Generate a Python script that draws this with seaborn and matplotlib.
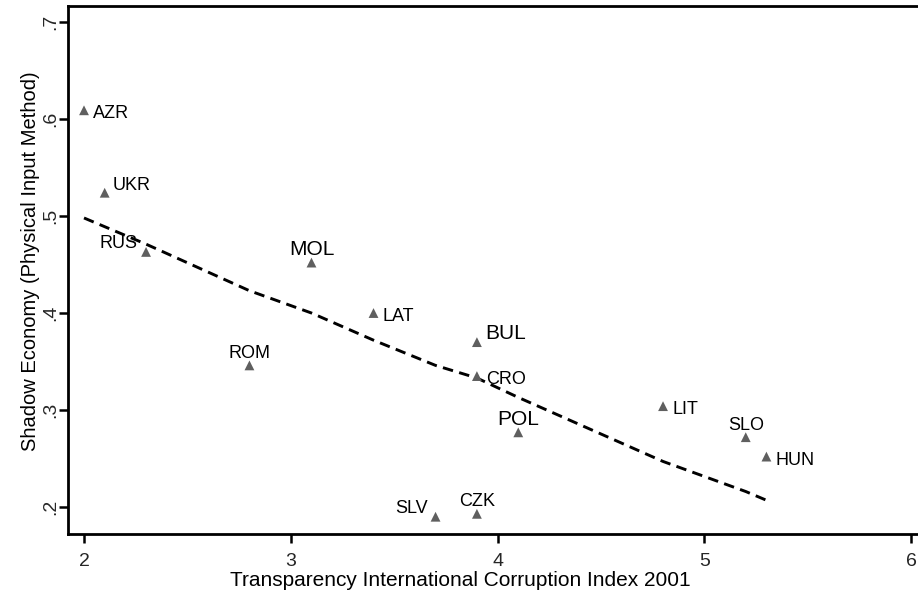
import pandas as pd
import seaborn as sns
from matplotlib import pyplot as plt

# Data
countries = ['AZR', 'UKR', 'RUS', 'ROM', 'MOL', 'LAT', 'SLV', 'BUL', 'CRO', 'CZK', 'POL', 'LIT', 'SLO', 'HUN']
cpi_2001 = [2.0, 2.1, 2.3, 2.8, 3.1, 3.4, 3.7, 3.9, 3.9, 3.9, 4.1, 4.8, 5.2, 5.3]
shadow_economy = [0.609, 0.524, 0.463, 0.346, 0.452, 0.400, 0.190, 0.370, 0.335, 0.193, 0.277, 0.304, 0.272, 0.252]

# smoothed fit (dashed line)
fit_x = [2.0, 2.1, 2.3, 2.8, 3.1, 3.4, 3.7, 3.9, 4.1, 4.8, 5.2, 5.3]
fit_y = [0.498, 0.489, 0.471, 0.423, 0.400, 0.372, 0.346, 0.333, 0.313, 0.247, 0.216, 0.207]

x_ticks = [2, 3, 4, 5, 6]
y_ticks = [0.2, 0.3, 0.4, 0.5, 0.6, 0.7]
y_tick_labels = ['.2', '.3', '.4', '.5', '.6', '.7']

# label placement, Stata clock positions
label_pos = {'AZR': 3, 'UKR': 2, 'RUS': 10, 'ROM': 12, 'MOL': 12, 'LAT': 3, 'SLV': 10,
             'BUL': 2, 'CRO': 3, 'CZK': 12, 'POL': 12, 'LIT': 3, 'SLO': 12, 'HUN': 3}
pos_style = {3: ((6.5, -5.8), 'left'), 12: ((0, 5.4), 'center'),
             2: ((5.8, 2.2), 'left'), 10: ((-5.8, 2.5), 'right')}
big_labels = ['MOL', 'BUL', 'POL']

df = pd.DataFrame({'Country': countries, 'CPI': cpi_2001, 'Shadow': shadow_economy})
fit = pd.DataFrame({'CPI': fit_x, 'Shadow': fit_y})

sns.set_theme(style='white')
plt.rcParams['font.family'] = ['Liberation Sans', 'DejaVu Sans']

fig = plt.figure(figsize=(9.18, 6.02), dpi=100)
ax = fig.add_axes([68 / 918, 68 / 602, 850 / 918, 528 / 602])

sns.scatterplot(data=df, x='CPI', y='Shadow', marker='^', s=50, color='#5f5f5f',
                edgecolor='none', ax=ax, zorder=3)
sns.lineplot(data=fit, x='CPI', y='Shadow', estimator=None, sort=False, color='black',
             linewidth=2.1, ax=ax, zorder=2)
ax.lines[-1].set_dashes((3.6, 2.2))

for _, row in df.iterrows():
    offset, ha = pos_style[label_pos[row['Country']]]
    size = 15 if row['Country'] in big_labels else 13
    ax.annotate(row['Country'], (row['CPI'], row['Shadow']), xytext=offset,
                textcoords='offset points', ha=ha, va='baseline', fontsize=size, color='black')

ax.set_xlim(1.9226, 6.033)
ax.set_ylim(0.1722, 0.7165)
ax.set_xticks(x_ticks)
ax.set_xticklabels([str(t) for t in x_ticks], fontsize=14)
ax.set_yticks(y_ticks)
ax.set_yticklabels(y_tick_labels, fontsize=14, rotation=90, va='center')

ax.tick_params(axis='both', direction='out', length=6.5, width=1.8, color='black', bottom=True, left=True)
ax.tick_params(axis='x', pad=7)
ax.tick_params(axis='y', pad=0)

for side in ['left', 'bottom', 'top']:
    ax.spines[side].set_color('black')
    ax.spines[side].set_linewidth(2)
ax.spines['right'].set_visible(False)

ax.set_xlabel('Transparency International Corruption Index 2001', fontsize=15, color='black')
ax.set_ylabel('Shadow Economy (Physical Input Method)', fontsize=14.5, color='black')
ax.xaxis.set_label_coords(392 / 850, -37 / 528)
ax.yaxis.set_label_coords(-28 / 850, 0.5 + 9 / 528)

fig.savefig('out.png', dpi=100)
plt.close()
